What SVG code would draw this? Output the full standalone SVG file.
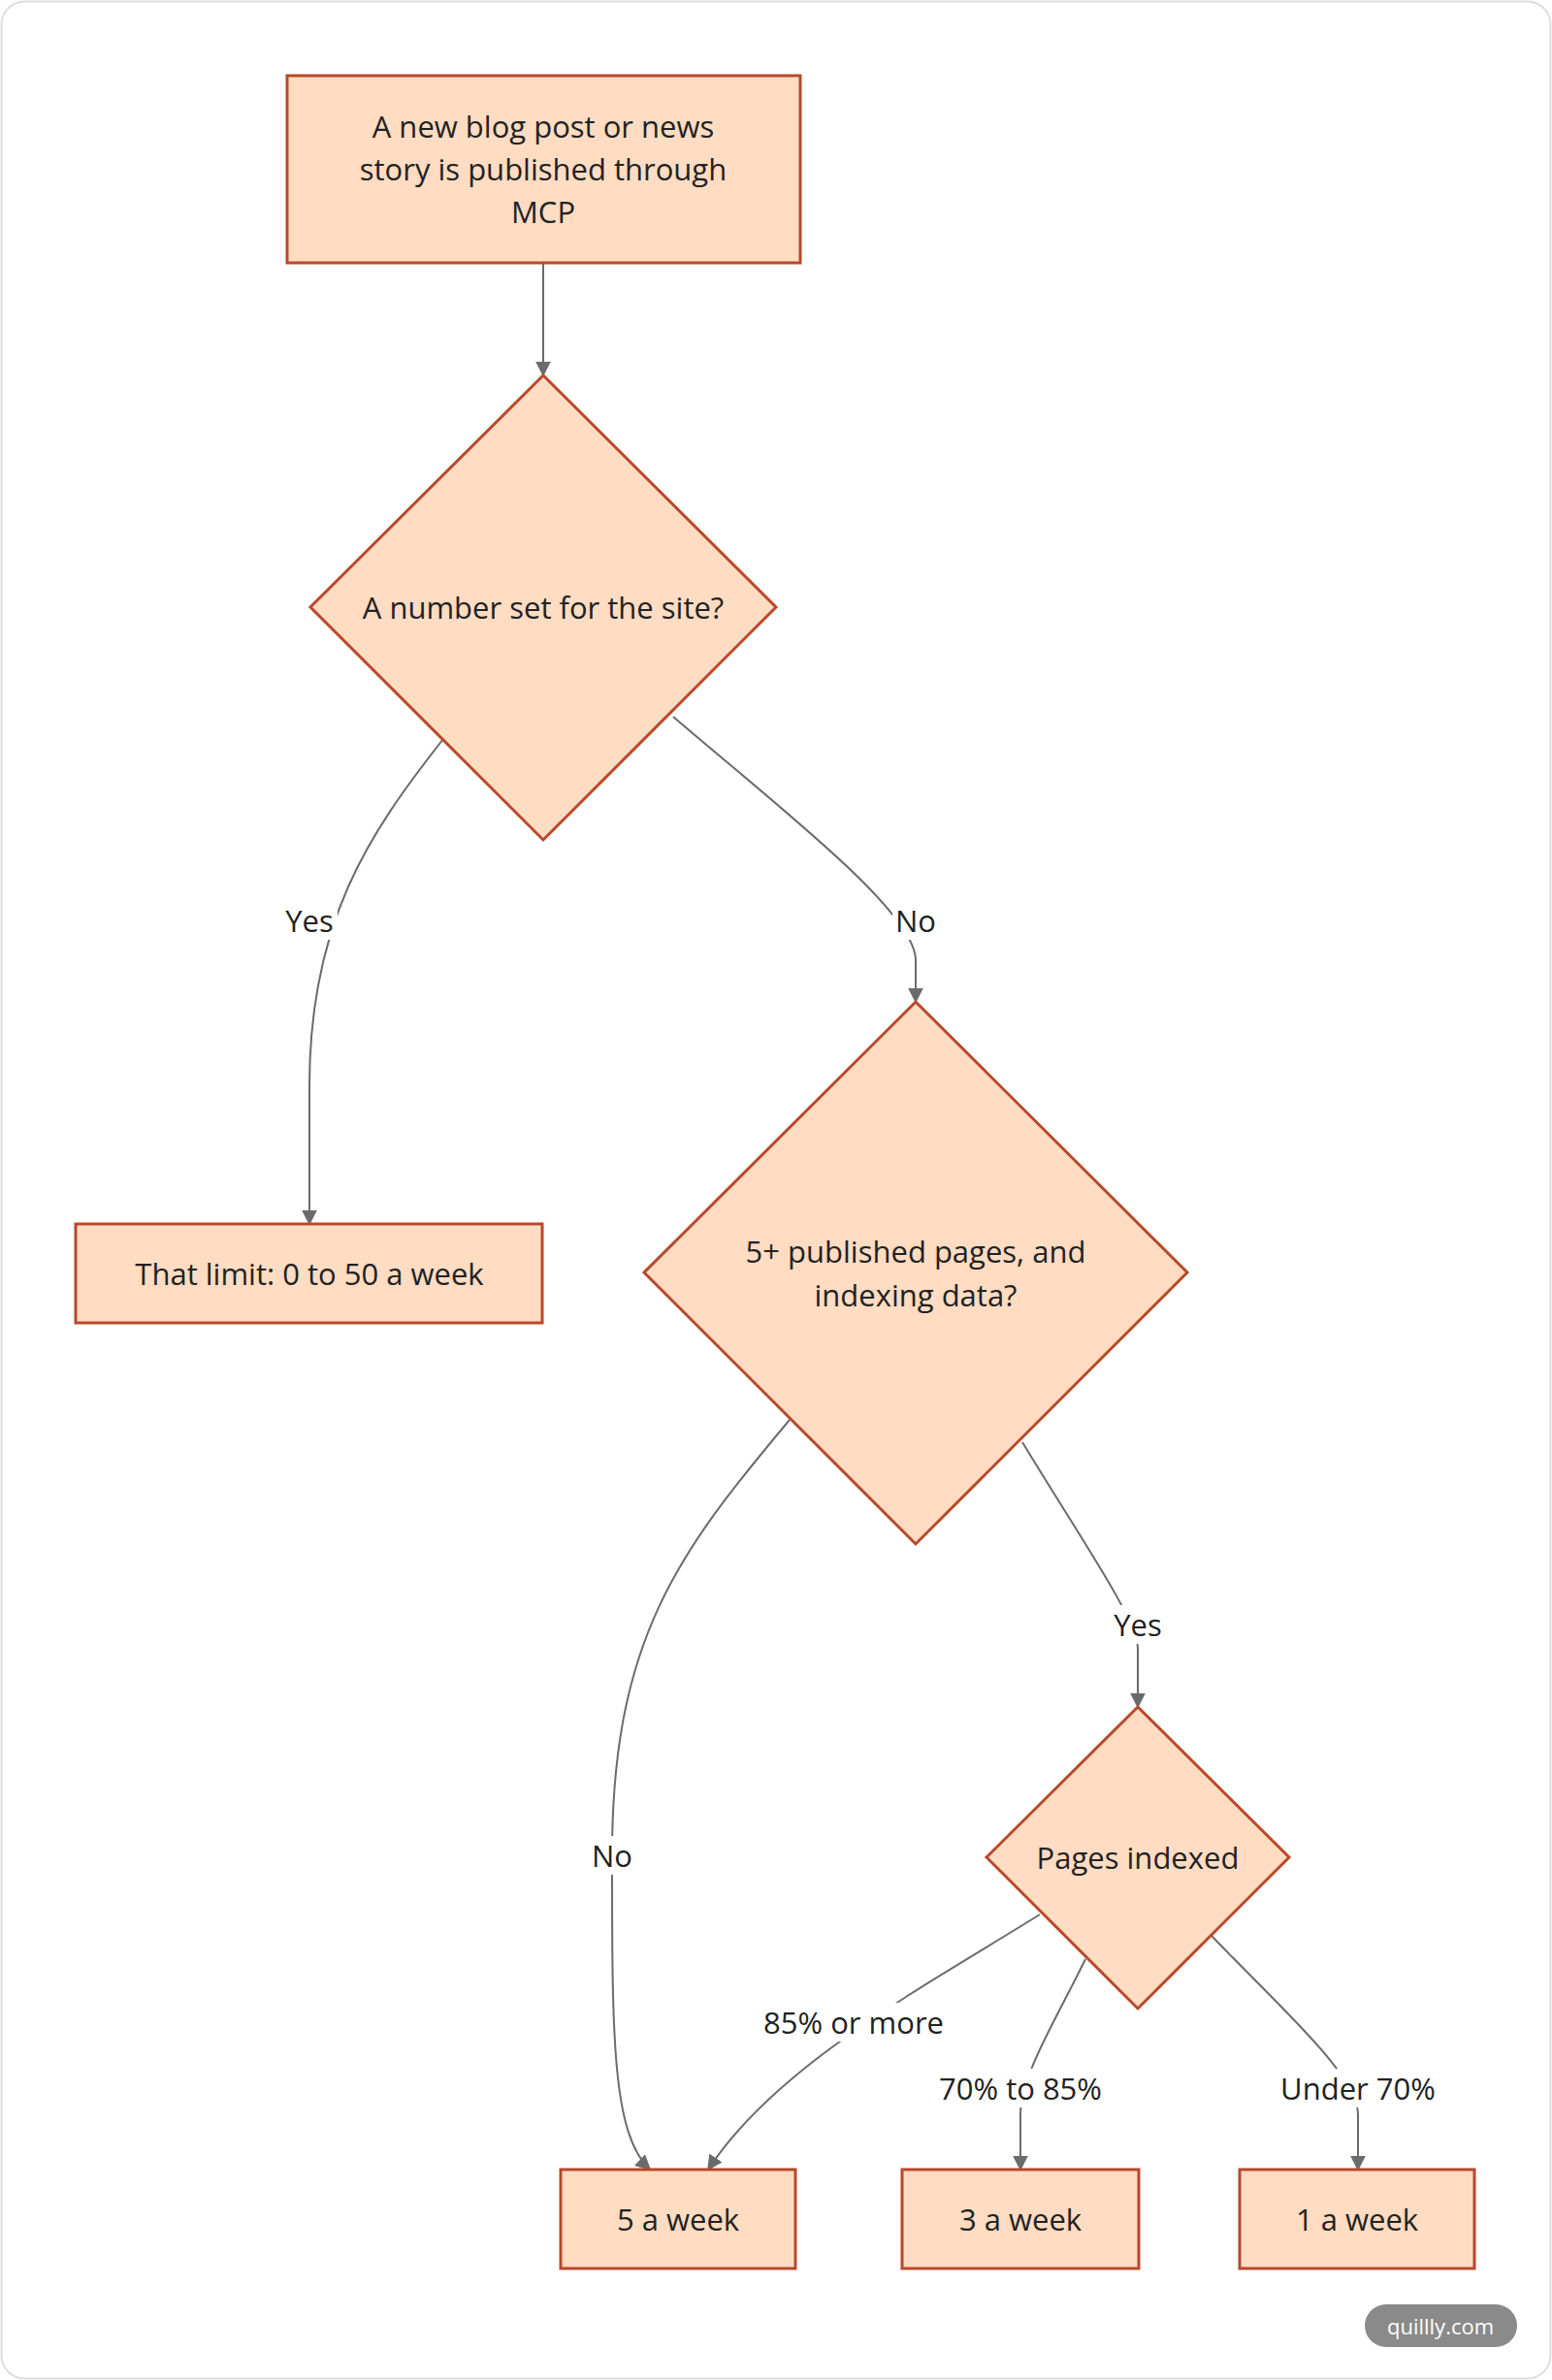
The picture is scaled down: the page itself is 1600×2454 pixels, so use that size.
<svg xmlns="http://www.w3.org/2000/svg" width="1600" height="2454" viewBox="0 0 1600 2454">
<style>
.n{fill:#FFDCC2;stroke:#B8492A;stroke-width:3}
.t{font-family:"Open Sans","Noto Sans",sans-serif;font-size:31px;fill:#222;text-anchor:middle;dominant-baseline:central}
.e{fill:none;stroke:#6b6b6b;stroke-width:2;marker-end:url(#a)}
.lb{fill:#fff}
</style>
<defs><marker id="a" viewBox="0 0 10 10" refX="9" refY="5" markerWidth="8" markerHeight="8" orient="auto"><path d="M0,0L10,5L0,10z" fill="#6b6b6b"/></marker></defs>
<rect x="1.5" y="1.5" width="1597" height="2451" rx="24" fill="#fff" stroke="#ddd" stroke-width="2"/>
<g id="connectors">
<path class="e" d="M560,271L560,387"/>
<path class="e" d="M457,762C380,860 319,950 319,1120L319,1262"/>
<path class="e" d="M694,739C800,830 944,940 944,990L944,1033"/>
<path class="e" d="M814,1464C700,1600 631,1690 631,1913C631,2100 631,2200 670,2237"/>
<path class="e" d="M1054,1487C1110,1580 1173,1670 1173,1700L1173,1760"/>
<path class="e" d="M1072,1974C950,2050 800,2130 730,2237"/>
<path class="e" d="M1119,2020C1090,2080 1052,2140 1052,2180L1052,2237"/>
<path class="e" d="M1249,1996C1320,2070 1400,2140 1400,2180L1400,2237"/>
<rect class="lb" x="290" y="929" width="58" height="40"/><text class="t" x="319" y="949">Yes</text>
<rect class="lb" x="920" y="929" width="48" height="40"/><text class="t" x="944" y="949">No</text>
<rect class="lb" x="607" y="1893" width="48" height="40"/><text class="t" x="631" y="1913">No</text>
<rect class="lb" x="1144" y="1655" width="58" height="40"/><text class="t" x="1173" y="1675">Yes</text>
<rect class="lb" x="780" y="2065" width="200" height="40"/><text class="t" x="880" y="2085">85% or more</text>
<rect class="lb" x="955" y="2133" width="194" height="40"/><text class="t" x="1052" y="2153">70% to 85%</text>
<rect class="lb" x="1310" y="2133" width="180" height="40"/><text class="t" x="1400" y="2153">Under 70%</text>
</g>
<g id="start"><rect class="n" x="296" y="78" width="529" height="193"/><text class="t" x="560" y="130">A new blog post or news</text><text class="t" x="560" y="174">story is published through</text><text class="t" x="560" y="218">MCP</text></g>
<g id="d1"><path class="n" d="M560,387L800,626L560,866L320,626Z"/><text class="t" x="560" y="626">A number set for the site?</text></g>
<g id="limit"><rect class="n" x="78" y="1262" width="481" height="102"/><text class="t" x="319" y="1313">That limit: 0 to 50 a week</text></g>
<g id="d2"><path class="n" d="M944,1033L1224,1312L944,1592L664,1312Z"/><text class="t" x="944" y="1290">5+ published pages, and</text><text class="t" x="944" y="1335">indexing data?</text></g>
<g id="d3"><path class="n" d="M1173,1760L1329,1915L1173,2071L1017,1915Z"/><text class="t" x="1173" y="1915">Pages indexed</text></g>
<g id="w5"><rect class="n" x="578" y="2237" width="242" height="102"/><text class="t" x="699" y="2288">5 a week</text></g>
<g id="w3"><rect class="n" x="930" y="2237" width="244" height="102"/><text class="t" x="1052" y="2288">3 a week</text></g>
<g id="w1"><rect class="n" x="1278" y="2237" width="242" height="102"/><text class="t" x="1399" y="2288">1 a week</text></g>
<rect x="1407" y="2376" width="157" height="44" rx="22" fill="#8a8a8a"/>
<text x="1485" y="2398" font-family="Open Sans,sans-serif" font-size="22" fill="#fff" text-anchor="middle" dominant-baseline="central">quillly.com</text>
</svg>
